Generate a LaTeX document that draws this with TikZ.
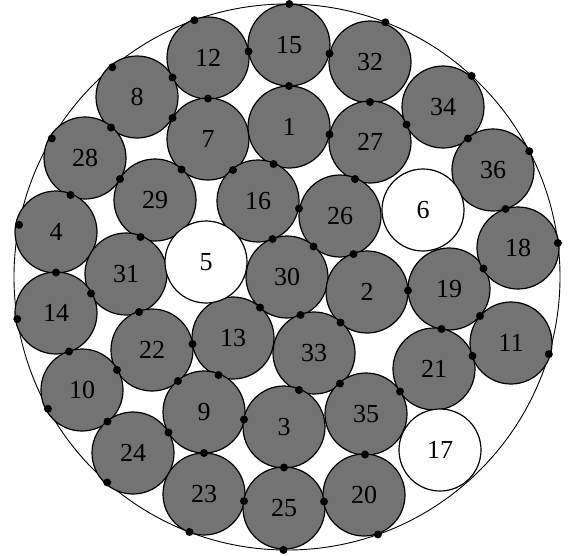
\documentclass[tikz,border=0pt]{standalone}
\usepackage{fontspec}
\setmainfont{Liberation Serif}
\usetikzlibrary{calc}
\begin{document}
\begin{tikzpicture}[x=1pt,y=-1pt,
  wire/.style={circle,draw=black,line width=1.2pt,fill=black!55,minimum size=82pt,inner sep=0pt,font=\fontsize{26}{26}\selectfont},
  emptywire/.style={wire,fill=white},
  contact/.style={circle,fill=black,minimum size=8pt,inner sep=0pt},
  outer/.style={circle,draw=black,line width=0.9pt,minimum size=546pt,inner sep=0pt}]
\useasboundingbox (0,0) rectangle (572,555);
\node[outer] (O) at (287,277) {};
\foreach \n/\x/\y in {12/208/58, 15/289/45, 32/370/62, 8/137/97, 7/208/139, 1/289/127,
  27/370/142, 34/443/107, 28/85/158, 29/155/200, 16/258/201, 26/340/216, 36/493/170,
  4/56/232, 31/126/274, 30/287/277, 2/367/292, 19/449/289, 18/518/248, 14/56/313,
  22/152/350, 13/233/338, 33/314/353, 21/434/369, 11/511/343, 10/82/390, 9/204/412,
  3/284/427, 35/366/414, 24/133/453, 23/204/494, 25/284/508, 20/364/495}
  {\node[wire] (n\n) at (\x,\y) {\n};}
\foreach \n/\x/\y in {6/423/210, 5/206/262, 17/440/450}
  {\node[emptywire] (n\n) at (\x,\y) {\n};}
\foreach \a/\b in {12/15, 8/12, 12/7, 8/7, 8/28, 28/29, 7/29, 7/16, 1/16, 28/4, 29/31,
  16/30, 4/14, 15/32, 15/1, 32/27, 1/27, 27/34, 34/36, 27/26, 16/26, 36/18, 26/30, 26/2,
  18/19, 31/14, 31/22, 14/10, 22/13, 22/10, 13/9, 22/9, 10/24, 24/9, 9/3, 9/23, 23/25,
  3/25, 13/30, 2/19, 30/33, 2/33, 19/21, 19/11, 21/11, 33/35, 33/3, 35/21, 35/20, 25/20}
  {\node[contact] (d\a-\b) at ($(n\a.center)!0.5!(n\b.center)$) {};}
\foreach \n in {12, 8, 28, 4, 14, 10, 24, 23, 25, 20, 11, 18, 36, 34, 32, 15}
  {\node[contact] (b\n) at ($(O.center)!273pt!(n\n.center)$) {};}
\end{tikzpicture}
\end{document}
